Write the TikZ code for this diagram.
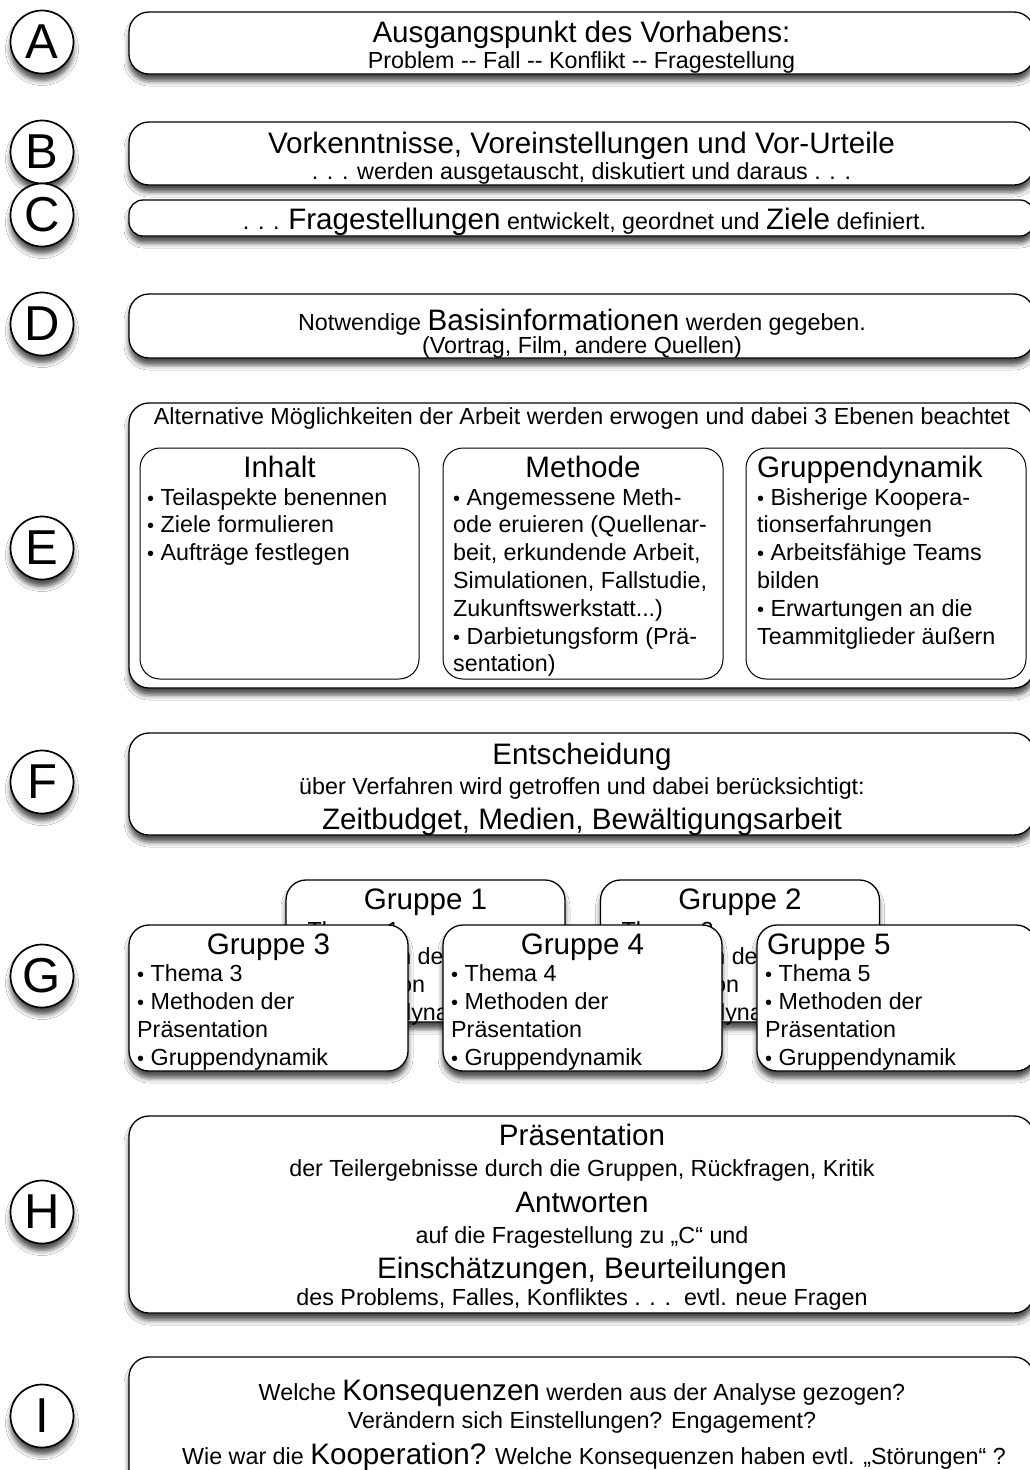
\documentclass[tikz,border=0pt]{standalone}
\usepackage{fontspec}
\setmainfont{Liberation Sans}
\usetikzlibrary{shadows.blur}
\newcommand\txs{\fontsize{23.3}{27.8}\selectfont}
\newcommand\txb{\fontsize{29.6}{33}\selectfont}
\newcommand\txl{\fontsize{49}{52}\selectfont}
\newcommand\bul{{\fontsize{20}{20}\selectfont •}}
\begin{document}
\begin{tikzpicture}[x=1pt,y=-1pt,
  shd/.style={blur shadow={shadow xshift=0pt,shadow yshift=-7pt,shadow blur radius=5pt,shadow opacity=70}},
  panel/.style={draw=black,line width=1.3pt,fill=white,rounded corners=20pt,shd,inner sep=0pt},
  subpanel/.style={draw=black,line width=1pt,fill=white,rounded corners=20pt,inner sep=0pt},
  grp/.style={draw=black,line width=1.3pt,fill=white,rounded corners=20pt,shd,inner sep=0pt,minimum width=279pt},
  lbl/.style={circle,draw=black,line width=1.7pt,fill=white,minimum size=63pt,inner sep=0pt,shd,font=\txl},
  tl/.style={anchor=base,inner sep=0pt,font=\txs},
  tb/.style={anchor=base,inner sep=0pt,font=\txb},
  tlw/.style={anchor=base west,inner sep=0pt,font=\txs},
  tbw/.style={anchor=base west,inner sep=0pt,font=\txb},
]
\useasboundingbox (0,0) rectangle (1030,1470);
\fill[white] (0,0) rectangle (1030,1470);
\clip (0,0) rectangle (1030,1470);

% letter circles
\node[lbl] (cA) at (42,42) {A};
\node[lbl] (cB) at (42,152) {B};
\node[lbl] (cC) at (42,215) {C};
\node[lbl] (cD) at (42,324) {D};
\node[lbl] (cE) at (42,548) {E};
\node[lbl] (cF) at (42,782) {F};
\node[lbl] (cG) at (42,976) {G};
\node[lbl] (cH) at (42,1212) {H};
\node[lbl] (cI) at (42,1416) {I};

% A
\node[panel,minimum width=905pt,minimum height=62pt] (bA) at (581.5,43) {};
\node[tb] (tA1) at (581.5,42) {Ausgangspunkt des Vorhabens:};
\node[tl] (tA2) at (581.5,68) {Problem -{}- Fall -{}- Konflikt -{}- Fragestellung};

% B
\node[panel,minimum width=905pt,minimum height=63pt] (bB) at (581.5,153.5) {};
\node[tb] (tB1) at (581.5,153) {Vorkenntnisse, Voreinstellungen und Vor-Urteile};
\node[tl] (tB2) at (581.5,179) {. . . werden ausgetauscht, diskutiert und daraus . . .};

% C
\node[panel,rounded corners=14pt,minimum width=905pt,minimum height=36pt] (bC) at (581.5,218) {};
\node[tl] (tC1) at (584.5,229) {. . . {\txb Fragestellungen} entwickelt, geordnet und {\txb Ziele} definiert.};

% D
\node[panel,minimum width=905pt,minimum height=64pt] (bD) at (581.5,326) {};
\node[tl] (tD1) at (582,330) {Notwendige {\txb Basisinformationen} werden gegeben.};
\node[tl] (tD2) at (582,353) {(Vortrag, Film, andere Quellen)};

% E
\node[panel,minimum width=905pt,minimum height=285pt] (bE) at (581.5,545.5) {};
\node[tl] (tE0) at (582,424) {Alternative Möglichkeiten der Arbeit werden erwogen und dabei 3 Ebenen beachtet};
\node[subpanel,minimum width=279pt,minimum height=231pt] (bE1) at (279.5,563.5) {};
\node[subpanel,minimum width=280pt,minimum height=231pt] (bE2) at (583,563.5) {};
\node[subpanel,minimum width=280pt,minimum height=231pt] (bE3) at (886,563.5) {};
\node[tb] (tE1h) at (279.5,477) {Inhalt};
\node[tlw] (tE11) at (147,505) {\bul\ Teilaspekte benennen};
\node[tlw] (tE12) at (147,532.8) {\bul\ Ziele formulieren};
\node[tlw] (tE13) at (147,560.6) {\bul\ Aufträge festlegen};
\node[tb] (tE2h) at (583,477) {Methode};
\node[tlw] (tE21) at (453,505) {\bul\ Angemessene Meth-};
\node[tlw] (tE22) at (453,532.8) {ode eruieren (Quellenar-};
\node[tlw] (tE23) at (453,560.6) {beit, erkundende Arbeit,};
\node[tlw] (tE24) at (453,588.4) {Simulationen, Fallstudie,};
\node[tlw] (tE25) at (453,616.2) {Zukunftswerkstatt...)};
\node[tlw] (tE26) at (453,644) {\bul\ Darbietungsform (Prä-};
\node[tlw] (tE27) at (453,671.8) {sentation)};
\node[tbw] (tE3h) at (757,477) {Gruppendynamik};
\node[tlw] (tE31) at (757,505) {\bul\ Bisherige Koopera-};
\node[tlw] (tE32) at (757,532.8) {tionserfahrungen};
\node[tlw] (tE33) at (757,560.6) {\bul\ Arbeitsfähige Teams};
\node[tlw] (tE34) at (757,588.4) {bilden};
\node[tlw] (tE35) at (757,616.2) {\bul\ Erwartungen an die};
\node[tlw] (tE36) at (757,644) {Teammitglieder äußern};

% F
\node[panel,minimum width=905pt,minimum height=102pt] (bF) at (581.5,784) {};
\node[tb] (tF1) at (582,764) {Entscheidung};
\node[tl] (tF2) at (582,794) {über Verfahren wird getroffen und dabei berücksichtigt:};
\node[tb] (tF3) at (582,829) {Zeitbudget, Medien, Bewältigungsarbeit};

% G
\node[grp,minimum height=142pt] (g1) at (425.5,951) {};
\node[tb] (g1h) at (425.5,909) {Gruppe 1};
\node[tlw] (g11) at (294,938) {\bul\ Thema 1};
\node[tlw] (g12) at (294,964) {\bul\ Methoden der};
\node[tlw] (g13) at (294,992) {Präsentation};
\node[tlw] (g14) at (294,1020) {\bul\ Gruppendynamik};
\node[grp,minimum height=142pt] (g2) at (740,951) {};
\node[tb] (g2h) at (740,909) {Gruppe 2};
\node[tlw] (g21) at (608,938) {\bul\ Thema 2};
\node[tlw] (g22) at (608,964) {\bul\ Methoden der};
\node[tlw] (g23) at (608,992) {Präsentation};
\node[tlw] (g24) at (608,1020) {\bul\ Gruppendynamik};

\node[grp,minimum height=146pt] (g3) at (268.5,998) {};
\node[tb] (g3h) at (268.5,954) {Gruppe 3};
\node[tlw] (g31) at (137,981) {\bul\ Thema 3};
\node[tlw] (g32) at (137,1009) {\bul\ Methoden der};
\node[tlw] (g33) at (137,1037) {Präsentation};
\node[tlw] (g34) at (137,1065) {\bul\ Gruppendynamik};
\node[grp,minimum height=146pt] (g4) at (582.5,998) {};
\node[tb] (g4h) at (582.5,954) {Gruppe 4};
\node[tlw] (g41) at (451,981) {\bul\ Thema 4};
\node[tlw] (g42) at (451,1009) {\bul\ Methoden der};
\node[tlw] (g43) at (451,1037) {Präsentation};
\node[tlw] (g44) at (451,1065) {\bul\ Gruppendynamik};
\node[grp,minimum height=146pt] (g5) at (896.5,998) {};
\node[tbw] (g5h) at (767,954) {Gruppe 5};
\node[tlw] (g51) at (765,981) {\bul\ Thema 5};
\node[tlw] (g52) at (765,1009) {\bul\ Methoden der};
\node[tlw] (g53) at (765,1037) {Präsentation};
\node[tlw] (g54) at (765,1065) {\bul\ Gruppendynamik};

% H
\node[panel,minimum width=905pt,minimum height=197pt] (bH) at (581.5,1214.5) {};
\node[tb] (tH1) at (582,1145) {Präsentation};
\node[tl] (tH2) at (582,1176) {der Teilergebnisse durch die Gruppen, Rückfragen, Kritik};
\node[tb] (tH3) at (582,1212) {Antworten};
\node[tl] (tH4) at (582,1243) {auf die Fragestellung zu „C“ und};
\node[tb] (tH5) at (582,1278) {Einschätzungen, Beurteilungen};
\node[tl] (tH6) at (582,1305) {des Problems, Falles, Konfliktes . . .\ \ evtl. neue Fragen};

% I
\node[panel,minimum width=905pt,minimum height=160pt] (bI) at (581.5,1437) {};
\node[tl] (tI1) at (582,1400) {Welche {\txb Konsequenzen} werden aus der Analyse gezogen?};
\node[tl] (tI2) at (582,1428) {Verändern sich Einstellungen? Engagement?};
\node[tl] (tI3) at (594,1464) {Wie war die {\txb Kooperation?} Welche Konsequenzen haben evtl. „Störungen“ ?};
\end{tikzpicture}
\end{document}
